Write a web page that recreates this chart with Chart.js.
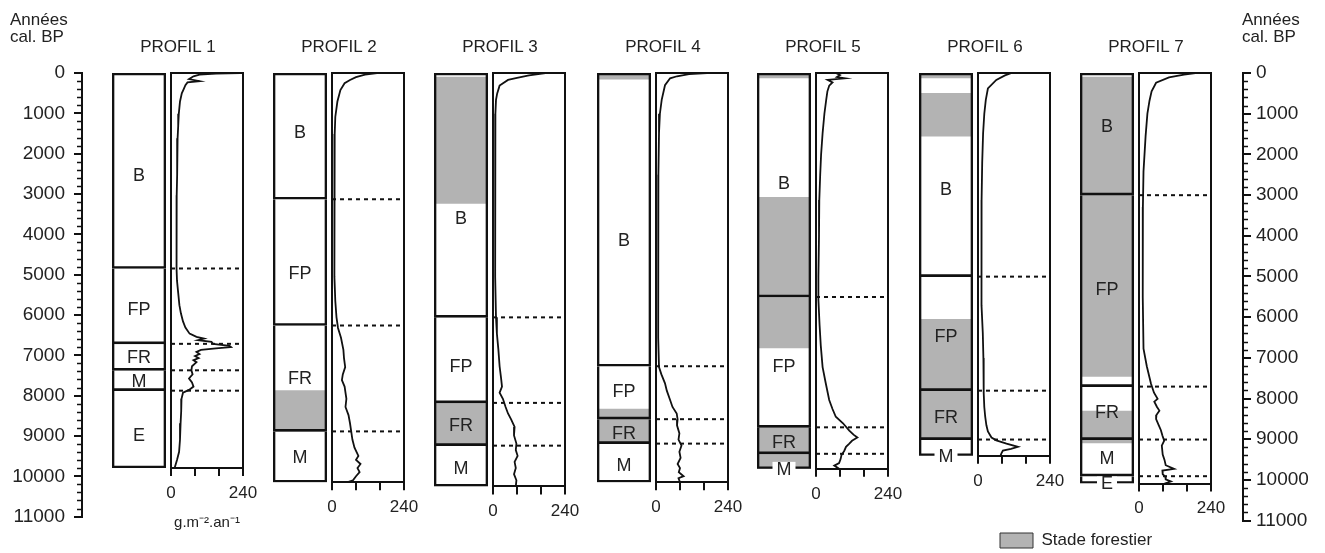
<!DOCTYPE html>
<html>
<head>
<meta charset="utf-8">
<script src="https://cdn.jsdelivr.net/npm/chart.js@4.4.1/dist/chart.umd.min.js"></script>
<style>
  html, body { margin: 0; padding: 0; background: #fff; overflow: hidden; }
  #wrap { position: relative; width: 1325px; height: 553px; overflow: hidden; }
  #wrap canvas { position: absolute; }
</style>
</head>
<body>
<div id="wrap"></div>
<script>
// ---- data (years cal. BP / accumulation rate g.m-2.an-1) ----
const profileNames = ['PROFIL 1', 'PROFIL 2', 'PROFIL 3', 'PROFIL 4', 'PROFIL 5', 'PROFIL 6', 'PROFIL 7'];
const yearMax = 11000;
const yearStep = 1000;
const yearMinorStep = 200;
const rateMax = 240;
const rateStep = 80;
const rateLabels = [0, 240];
const profileBottoms = [9700, 10050, 10150, 10050, 9720, 9400, 10080];

// zones: [label, from, to, label year]
const zones1 = [['B', 0, 4800, 2500], ['FP', 4800, 6650, 5800], ['FR', 6650, 7300, 6980], ['M', 7300, 7800, 7560], ['E', 7800, 9700, 8900]];
const zones2 = [['B', 0, 3100, 1450], ['FP', 3100, 6200, 4900], ['FR', 6200, 8800, 7500], ['M', 8800, 10050, 9430]];
const zones3 = [['B', 0, 6000, 3550], ['FP', 6000, 8100, 7200], ['FR', 8100, 9150, 8650], ['M', 9150, 10150, 9700]];
const zones4 = [['B', 0, 7200, 4100], ['FP', 7200, 8500, 7800], ['FR', 8500, 9100, 8830], ['M', 9100, 10050, 9620]];
const zones5 = [['B', 0, 5500, 2700], ['FP', 5500, 8700, 7200], ['FR', 8700, 9350, 9070], ['M', 9350, 9720, 9720]];
const zones6 = [['B', 0, 5000, 2850], ['FP', 5000, 7800, 6450], ['FR', 7800, 9000, 8450], ['M', 9000, 9400, 9400]];
const zones7 = [['B', 0, 3000, 1300], ['FP', 3000, 7700, 5300], ['FR', 7700, 9000, 8330], ['M', 9000, 9900, 9450], ['E', 9900, 10080, 10080]];

// forest stages: [from, to]
const forest1 = [];
const forest2 = [[7800, 8800]];
const forest3 = [[100, 3200], [8100, 9150]];
const forest4 = [[0, 150], [8250, 9050]];
const forest5 = [[0, 120], [3050, 6750], [8700, 9720]];
const forest6 = [[0, 120], [500, 1550], [6050, 9000]];
const forest7 = [[100, 7450], [8300, 9080]];

// curves: [year, rate]
const curve1 = [[0, 230], [15, 150], [40, 95], [80, 75], [150, 60], [200, 95], [230, 55], [300, 48], [400, 42], [500, 36], [700, 30], [1000, 26], [1300, 24], [1600, 22], [2000, 21], [2500, 20], [3000, 19], [3500, 19], [4000, 19], [4500, 18], [4800, 18], [5100, 20], [5400, 24], [5700, 28], [5900, 33], [6100, 40], [6250, 48], [6400, 62], [6480, 85], [6520, 110], [6560, 90], [6600, 135], [6650, 140], [6700, 195], [6730, 200], [6760, 150], [6800, 100], [6850, 85], [6900, 95], [6950, 80], [7000, 92], [7050, 75], [7100, 85], [7200, 70], [7300, 68], [7400, 72], [7500, 60], [7600, 70], [7700, 75], [7780, 60], [7850, 40], [8000, 35], [8300, 34], [8600, 32], [9000, 30], [9300, 27], [9500, 20], [9700, 12]];
const curve2 = [[0, 150], [40, 110], [100, 80], [170, 60], [250, 42], [420, 28], [700, 18], [1080, 11], [1500, 9], [2000, 8], [3000, 7], [4000, 8], [5000, 9], [5600, 11], [6000, 15], [6260, 20], [6500, 30], [6800, 38], [7000, 40], [7220, 44], [7400, 36], [7540, 33], [7700, 42], [8000, 48], [8200, 45], [8400, 55], [8600, 60], [8850, 65], [9000, 68], [9200, 75], [9400, 88], [9500, 80], [9600, 95], [9700, 85], [9800, 92], [9900, 80], [10000, 70], [10050, 50]];
const curve3 = [[0, 175], [60, 120], [120, 80], [170, 50], [310, 22], [500, 14], [660, 10], [1000, 8], [2000, 7], [3000, 7], [4000, 7], [5000, 8], [6000, 10], [6400, 13], [6800, 18], [7200, 22], [7500, 27], [7700, 30], [7850, 22], [8000, 33], [8200, 42], [8360, 50], [8500, 60], [8690, 72], [8900, 70], [9100, 78], [9260, 76], [9400, 82], [9550, 72], [9700, 76], [9850, 70], [10000, 78], [10150, 76]];
const curve4 = [[0, 170], [30, 110], [80, 70], [130, 47], [300, 30], [660, 19], [1000, 13], [1480, 10], [2500, 8], [4000, 7], [5500, 7], [6500, 8], [7220, 10], [7400, 18], [7620, 30], [7800, 36], [8030, 47], [8200, 55], [8360, 69], [8500, 72], [8650, 70], [8850, 78], [9000, 75], [9150, 85], [9300, 78], [9450, 82], [9600, 72], [9700, 80], [9800, 76], [9900, 92], [9950, 75], [10050, 80]];
const curve5 = [[0, 66], [50, 80], [100, 70], [130, 97], [170, 39], [230, 55], [310, 44], [450, 38], [660, 34], [1000, 28], [1480, 22], [2000, 17], [2500, 14], [3120, 11], [4000, 10], [5000, 8], [5570, 8], [6200, 12], [6700, 16], [7220, 22], [7600, 32], [8030, 44], [8250, 55], [8440, 66], [8600, 90], [8780, 111], [8880, 125], [8950, 138], [9030, 120], [9100, 111], [9180, 100], [9280, 94], [9380, 85], [9480, 82], [9580, 77], [9640, 61], [9720, 77]];
const curve6 = [[0, 112], [60, 90], [170, 61], [380, 33], [660, 26], [1000, 21], [1480, 17], [2200, 14], [3120, 12], [4000, 11], [5020, 11], [5700, 13], [6390, 16], [7000, 18], [7850, 19], [8200, 21], [8440, 24], [8650, 28], [8800, 33], [8950, 45], [9020, 61], [9100, 95], [9180, 133], [9230, 110], [9270, 83], [9340, 78], [9400, 75]];
const curve7 = [[0, 188], [40, 150], [110, 100], [240, 57], [450, 42], [680, 35], [1000, 28], [1550, 22], [2420, 15], [3290, 13], [4500, 12], [5500, 13], [6770, 15], [7200, 26], [7630, 40], [7850, 50], [8000, 62], [8070, 51], [8200, 60], [8290, 68], [8400, 58], [8500, 57], [8650, 66], [8770, 73], [8900, 78], [9030, 84], [9150, 76], [9370, 79], [9500, 85], [9630, 89], [9720, 117], [9760, 78], [9850, 79], [9920, 88], [9980, 89], [10030, 106], [10080, 85]];

const legendLabel = 'Stade forestier';
const unitLabel = 'g.m\u207B\u00B2.an\u207B\u00B9';

const allZones = [zones1, zones2, zones3, zones4, zones5, zones6, zones7];
const allForest = [forest1, forest2, forest3, forest4, forest5, forest6, forest7];
const allCurves = [curve1, curve2, curve3, curve4, curve5, curve6, curve7];

// ---- layout / style ----
const FONT = "'Liberation Sans', Arial, sans-serif";
const INK = '#111';
const TEXT = '#222';
const GREY = '#b3b3b3';
const TOP = 73;                 // pixel of year 0
const PX = 448 / yearMax;       // pixels per year
const zoneLefts = [112, 273, 434, 597, 757, 919, 1080];
const ZONE_W = 54, GAP = 5, CURVE_W = 72;

const wrap = document.getElementById('wrap');

function addCanvas(left, top, w, h) {
  const c = document.createElement('canvas');
  c.width = w; c.height = h;
  c.style.left = left + 'px'; c.style.top = top + 'px';
  c.style.width = w + 'px'; c.style.height = h + 'px';
  wrap.appendChild(c);
  return c;
}

// zone labels written in the boxes
function zoneLabelPlugin(zones, bottom) {
  return {
    id: 'zoneLabels',
    afterDatasetsDraw(chart) {
      const {ctx, chartArea, scales: {y}} = chart;
      const cx = (chartArea.left + chartArea.right) / 2;
      ctx.save();
      ctx.font = '18px ' + FONT;
      ctx.textAlign = 'center';
      ctx.textBaseline = 'middle';
      zones.forEach(z => {
        const py = y.getPixelForValue(z[3]);
        if (z[3] >= bottom) {
          const tw = ctx.measureText(z[0]).width + 8;
          ctx.fillStyle = '#fff';
          ctx.fillRect(cx - tw / 2, py - 7, tw, 14);
        }
        ctx.fillStyle = TEXT;
        ctx.fillText(z[0], cx, py + 1);
      });
      ctx.restore();
    }
  };
}

const framePlugin = {
  id: 'frame',
  afterDraw(chart) {
    const {ctx, chartArea: a} = chart;
    ctx.save();
    ctx.strokeStyle = INK;
    ctx.lineWidth = 2;
    ctx.beginPath();
    ctx.moveTo(a.left, a.bottom);
    ctx.lineTo(a.left, a.top);
    ctx.lineTo(a.right, a.top);
    ctx.lineTo(a.right, a.bottom);
    ctx.stroke();
    ctx.restore();
  }
};

const minorTicksPlugin = {
  id: 'minorTicks',
  afterDraw(chart) {
    const s = chart.scales.y;
    const ctx = chart.ctx;
    const left = s.position === 'left';
    const x0 = left ? s.right : s.left;
    ctx.save();
    ctx.strokeStyle = INK;
    ctx.lineWidth = 1.5;
    for (let v = 0; v <= yearMax; v += yearMinorStep) {
      if (v % yearStep === 0) continue;
      const py = Math.round(s.getPixelForValue(v)) + 0.5;
      ctx.beginPath();
      ctx.moveTo(x0, py);
      ctx.lineTo(x0 + (left ? -5 : 5), py);
      ctx.stroke();
    }
    ctx.restore();
  }
};

function titleChart(i) {
  const cx = zoneLefts[i] + (ZONE_W + GAP + CURVE_W) / 2;
  new Chart(addCanvas(Math.round(cx - 80), 0, 160, 66), {
    type: 'bar',
    data: { labels: [], datasets: [] },
    options: {
      responsive: false,
      animation: false,
      layout: { padding: 0 },
      scales: { x: { display: false }, y: { display: false } },
      plugins: {
        legend: { display: false },
        tooltip: { enabled: false },
        title: {
          display: true,
          text: profileNames[i],
          color: TEXT,
          font: { family: FONT, size: 17, weight: 'normal', lineHeight: 1.2 },
          padding: { top: 37, bottom: 4 }
        }
      }
    }
  });
}

function zoneChart(i) {
  const zones = allZones[i], bottom = profileBottoms[i];
  const pad = 3;
  const w = ZONE_W + 2 * pad;
  const areaBottom = pad + bottom * PX;
  const h = Math.ceil(areaBottom) + 14;
  const datasets = [];
  zones.forEach((z, k) => datasets.push({
    data: [[z[1], z[2]]],
    backgroundColor: 'rgba(0,0,0,0)',
    borderColor: INK,
    borderWidth: 2,
    borderSkipped: k === 0 ? false : 'bottom',
    order: 0
  }));
  allForest[i].forEach(f => datasets.push({
    data: [[f[0], f[1]]],
    backgroundColor: GREY,
    borderWidth: 0,
    order: 1
  }));
  new Chart(addCanvas(zoneLefts[i] - pad, TOP - pad, w, h), {
    type: 'bar',
    data: { labels: [''], datasets: datasets },
    options: {
      responsive: false,
      animation: false,
      layout: { padding: { left: pad, right: pad, top: pad, bottom: h - areaBottom } },
      datasets: { bar: { grouped: false, barPercentage: 1, categoryPercentage: 1 } },
      scales: {
        x: { display: false },
        y: { display: false, type: 'linear', min: 0, max: bottom, reverse: true }
      },
      plugins: { legend: { display: false }, tooltip: { enabled: false } }
    },
    plugins: [zoneLabelPlugin(zones, bottom)]
  });
}

function curveChart(i) {
  const bottom = profileBottoms[i];
  const curve = allCurves[i];
  const boundaries = allZones[i].slice(1).map(z => z[1]);
  const padL = 14, padR = 22, padT = 4;
  const axisH = i === 0 ? 64 : 36;
  const areaH = bottom * PX;
  const h = Math.round(padT + areaH + axisH);
  const fitH = h - padT - areaH;
  const w = padL + CURVE_W + padR;
  const left = zoneLefts[i] + ZONE_W + GAP - padL;

  const datasets = [{
    data: curve.map(p => ({ x: p[1], y: p[0] })),
    borderColor: INK,
    borderWidth: 1.8,
    pointRadius: 0,
    tension: 0
  }];
  boundaries.forEach(b => datasets.push({
    data: [{ x: 0, y: b }, { x: rateMax, y: b }],
    borderColor: INK,
    borderWidth: 2,
    borderDash: [4, 4],
    pointRadius: 0
  }));

  new Chart(addCanvas(left, TOP - padT, w, h), {
    type: 'line',
    data: { datasets: datasets },
    options: {
      responsive: false,
      animation: false,
      indexAxis: 'y',
      layout: { padding: { left: padL, right: padR, top: padT, bottom: 0 } },
      scales: {
        x: {
          type: 'linear',
          position: 'bottom',
          min: 0,
          max: rateMax,
          afterFit: s => { s.height = fitH; },
          ticks: {
            stepSize: rateStep,
            autoSkip: false,
            maxRotation: 0,
            padding: 7,
            color: TEXT,
            font: { family: FONT, size: 17 },
            callback: v => rateLabels.includes(v) ? String(v) : ''
          },
          grid: { drawOnChartArea: false, drawTicks: true, tickLength: 8, color: INK, lineWidth: 2 },
          border: { display: true, color: INK, width: 2 },
          title: {
            display: i === 0,
            text: unitLabel,
            color: TEXT,
            font: { family: FONT, size: 15, lineHeight: 1.2 },
            padding: { top: 0, bottom: 0 }
          }
        },
        y: { display: false, type: 'linear', min: 0, max: bottom, reverse: true }
      },
      plugins: { legend: { display: false }, tooltip: { enabled: false } }
    },
    plugins: [framePlugin]
  });
}

function yearAxis(side) {
  const isLeft = side === 'left';
  const w = isLeft ? 95 : 125;
  const bottomPad = 16;
  const h = Math.round(TOP + yearMax * PX + bottomPad);
  const canvasLeft = isLeft ? 0 : 1200;
  new Chart(addCanvas(canvasLeft, 0, w, h), {
    type: 'line',
    data: { datasets: [] },
    options: {
      responsive: false,
      animation: false,
      layout: { padding: isLeft ? { left: 10, right: 0, top: 0, bottom: h - TOP - yearMax * PX }
                                : { left: 42, right: 17, top: 0, bottom: h - TOP - yearMax * PX } },
      scales: {
        x: { display: false, type: 'linear', min: 0, max: 1 },
        y: {
          type: 'linear',
          position: side,
          min: 0,
          max: yearMax,
          reverse: true,
          afterFit: s => { s.width = isLeft ? 72 : 65; },
          ticks: {
            stepSize: yearStep,
            padding: isLeft ? 9 : 5,
            color: TEXT,
            font: { family: FONT, size: 19 },
            callback: v => String(v)
          },
          grid: { drawOnChartArea: false, drawTicks: true, tickLength: 8, color: INK, lineWidth: 2 },
          border: { display: true, color: INK, width: 2 }
        }
      },
      plugins: {
        legend: { display: false },
        tooltip: { enabled: false },
        title: {
          display: true,
          text: ['Années', 'cal. BP'],
          align: 'start',
          color: TEXT,
          font: { family: FONT, size: 17, weight: 'normal', lineHeight: 1 },
          padding: { top: 11.5, bottom: 27.5 }
        }
      }
    },
    plugins: [minorTicksPlugin]
  });
}

function legendChart() {
  // canvas runs past the page bottom so the legend gets its full height
  new Chart(addCanvas(990, 522, 220, 90), {
    type: 'bar',
    data: {
      labels: [],
      datasets: [{ label: legendLabel, data: [], backgroundColor: GREY, borderColor: '#333', borderWidth: 1 }]
    },
    options: {
      responsive: false,
      animation: false,
      layout: { padding: 0 },
      scales: { x: { display: false }, y: { display: false } },
      plugins: {
        tooltip: { enabled: false },
        legend: {
          display: true,
          position: 'top',
          align: 'start',
          maxHeight: 40,
          labels: { boxWidth: 33, boxHeight: 15, padding: 10, color: TEXT, font: { family: FONT, size: 17 } }
        }
      }
    }
  });
}

yearAxis('left');
for (let i = 0; i < profileNames.length; i++) {
  titleChart(i);
  zoneChart(i);
  curveChart(i);
}
yearAxis('right');
legendChart();
</script>
</body>
</html>
